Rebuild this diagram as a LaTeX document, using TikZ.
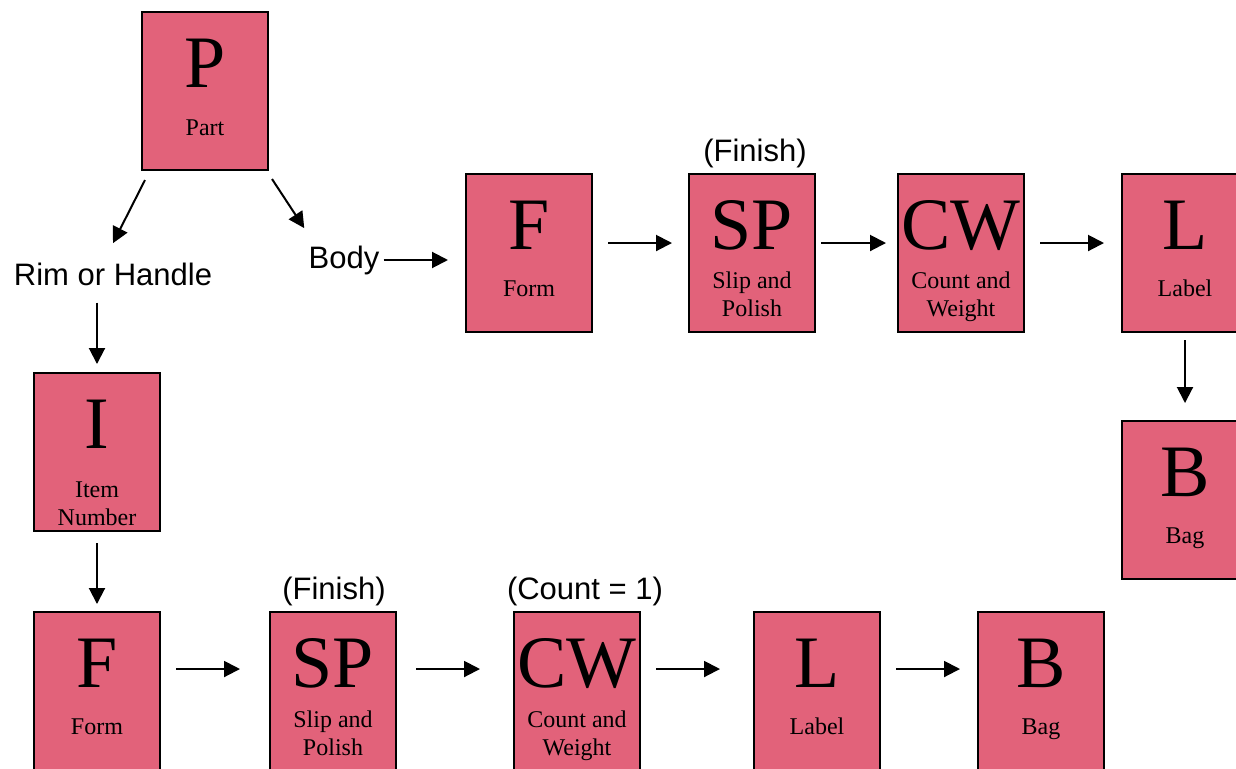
\documentclass[tikz,border=0pt]{standalone}
\usepackage{fontspec}
\setmainfont{Liberation Serif}
\setsansfont{Liberation Sans}
\usepackage{tikz}
\usetikzlibrary{arrows.meta, positioning, calc}
\definecolor{stagered}{RGB}{226,98,122}

\begin{document}
\begin{tikzpicture}[
  x=0.5pt, y=-0.5pt,
  stagebox/.style={
    draw=black, line width=1pt, fill=stagered,
    minimum width=63pt, minimum height=79pt, inner sep=0pt
  },
  letter/.style={anchor=base, inner sep=0pt,
    font=\fontsize{37pt}{40pt}\selectfont},
  caption/.style={anchor=base, inner sep=0pt, align=center,
    font=\fontsize{12pt}{14pt}\selectfont},
  tag/.style={anchor=base, inner sep=2pt,
    font=\sffamily\fontsize{15.5pt}{18pt}\selectfont},
  arrow/.style={-{Triangle[length=8pt,width=8pt]}, line width=1pt}
]
\useasboundingbox (0,0) rectangle (1236,768);

% ---- Part ----
\node[stagebox] (P) at (205,91) {};
\node[letter] (Pl) at ([yshift=-38pt]P.north) {P};
\node[caption] (Pc) at ([yshift=-62pt]P.north) {Part};

% ---- Split labels ----
\node[tag] (rim) at (113,285) {Rim or Handle};
\node[tag] (body) at (344,268) {Body};

% ---- Body line ----
\node[stagebox] (F1) at (529,253) {};
\node[letter] (F1l) at ([yshift=-38pt]F1.north) {F};
\node[caption] (F1c) at ([yshift=-61.5pt]F1.north) {Form};

\node[stagebox] (SP1) at (752,253) {};
\node[letter] (SP1l) at ([yshift=-38pt]SP1.north) {SP};
\node[caption] (SP1c) at ([yshift=-71.5pt]SP1.north) {Slip and\\Polish};
\node[tag] (fin1) at (755,161) {(Finish)};

\node[stagebox] (CW1) at (961,253) {};
\node[letter] (CW1l) at ([yshift=-38pt]CW1.north) {CW};
\node[caption] (CW1c) at ([yshift=-71.5pt]CW1.north) {Count and\\Weight};

\node[stagebox] (L1) at (1185,253) {};
\node[letter] (L1l) at ([yshift=-38pt]L1.north) {L};
\node[caption] (L1c) at ([yshift=-61.5pt]L1.north) {Label};

\node[stagebox] (B1) at (1185,500) {};
\node[letter] (B1l) at ([yshift=-38pt]B1.north) {B};
\node[caption] (B1c) at ([yshift=-61.5pt]B1.north) {Bag};

% ---- Rim or handle line ----
\node[stagebox] (I) at (97,452) {};
\node[letter] (Il) at ([yshift=-38pt]I.north) {I};
\node[caption] (Ic) at ([yshift=-76.5pt]I.north) {Item\\Number};

\node[stagebox] (F2) at (97,691) {};
\node[letter] (F2l) at ([yshift=-38pt]F2.north) {F};
\node[caption] (F2c) at ([yshift=-61.5pt]F2.north) {Form};

\node[stagebox] (SP2) at (333,691) {};
\node[letter] (SP2l) at ([yshift=-38pt]SP2.north) {SP};
\node[caption] (SP2c) at ([yshift=-72pt]SP2.north) {Slip and\\Polish};
\node[tag] (fin2) at (334,599) {(Finish)};

\node[stagebox] (CW2) at (577,691) {};
\node[letter] (CW2l) at ([yshift=-38pt]CW2.north) {CW};
\node[caption] (CW2c) at ([yshift=-72pt]CW2.north) {Count and\\Weight};
\node[tag] (cnt) at (585,599) {(Count = 1)};

\node[stagebox] (L2) at (817,691) {};
\node[letter] (L2l) at ([yshift=-38pt]L2.north) {L};
\node[caption] (L2c) at ([yshift=-61.5pt]L2.north) {Label};

\node[stagebox] (B2) at (1041,691) {};
\node[letter] (B2l) at ([yshift=-38pt]B2.north) {B};
\node[caption] (B2c) at ([yshift=-61.5pt]B2.north) {Bag};

% ---- Arrows from the part ----
\draw[arrow] ([shift={(2pt,-4.5pt)}]P.south west) -- ([yshift=7.5pt]rim.north);
\draw[arrow] ([shift={(1.5pt,-4pt)}]P.south east) -- ([yshift=6.5pt]body.north west);

% ---- Arrows along the body line ----
\draw[arrow, shorten >=8.5pt] (body.east) -- (body.east -| F1.west);
\draw[arrow, shorten <=7.5pt, shorten >=8pt]
  ([yshift=5pt]F1.east) -- ([yshift=5pt]SP1.west);
\draw[arrow, shorten <=2.5pt, shorten >=5.5pt]
  ([yshift=5pt]SP1.east) -- ([yshift=5pt]CW1.west);
\draw[arrow, shorten <=7.5pt, shorten >=8.5pt]
  ([yshift=5pt]CW1.east) -- ([yshift=5pt]L1.west);
\draw[arrow, shorten <=3.5pt, shorten >=8.5pt] (L1.south) -- (B1.north);

% ---- Arrows along the rim or handle line ----
\draw[arrow, shorten <=6.5pt, shorten >=4pt] (rim.south -| I.north) -- (I.north);
\draw[arrow, shorten <=5.5pt, shorten >=3.5pt] (I.south) -- (F2.north);
\draw[arrow, shorten <=7.5pt, shorten >=14.5pt]
  ([yshift=11pt]F2.east) -- ([yshift=11pt]SP2.west);
\draw[arrow, shorten <=9.5pt, shorten >=16.5pt]
  ([yshift=11pt]SP2.east) -- ([yshift=11pt]CW2.west);
\draw[arrow, shorten <=7.5pt, shorten >=16.5pt]
  ([yshift=11pt]CW2.east) -- ([yshift=11pt]L2.west);
\draw[arrow, shorten <=7.5pt, shorten >=8.5pt]
  ([yshift=11pt]L2.east) -- ([yshift=11pt]B2.west);

\end{tikzpicture}
\end{document}
